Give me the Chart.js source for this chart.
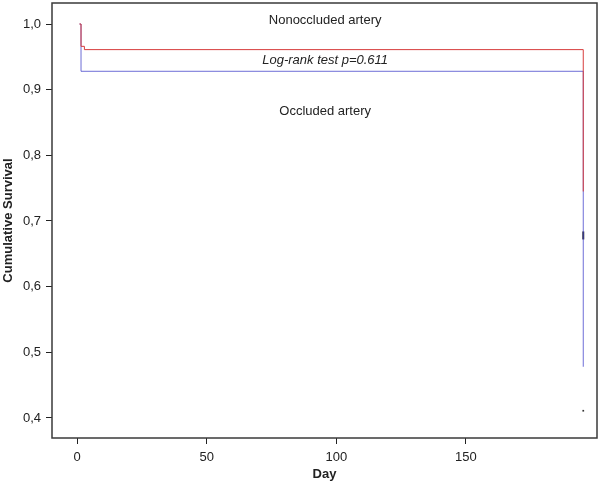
<!DOCTYPE html>
<html>
<head>
<meta charset="utf-8">
<script src="https://cdn.jsdelivr.net/npm/chart.js@4/dist/chart.umd.min.js"></script>
<style>
    html, body { margin: 0; padding: 0; background: #fff; }
    #wrap { width: 600px; height: 485px; }
</style>
</head>
<body>
<div id="wrap"><canvas id="kmChart" width="600" height="485"></canvas></div>
<script>
// Axis ticks
const xTicks = [0, 50, 100, 150];
const yTicks = [0.4, 0.5, 0.6, 0.7, 0.8, 0.9, 1.0];

// Kaplan-Meier steps (day, cumulative survival)
const nonoccludedDays = [0.9, 1.5, 2.8, 195.3];
const nonoccludedSurvival = [1.0, 0.966, 0.961, 0.745];
const occludedDays = [0.9, 1.5, 195.3];
const occludedSurvival = [1.0, 0.928, 0.478];

// Censor marks near the end
const censorDays = [195.3, 195.3];
const censorSurvival = [0.678, 0.411];

// Text labels inside the plot
const noteTexts = ['Nonoccluded artery', 'Log-rank test p=0.611', 'Occluded artery'];
const noteDays = [95.7, 95.7, 95.7];
const noteValues = [1.006, 0.944, 0.8675];
const noteItalic = [false, true, false];

const toPoints = (xs, ys) => xs.map((x, i) => ({ x: x, y: ys[i] }));

// Draws the frame and the in-plot labels
const framePlugin = {
    id: 'frame',
    afterDatasetsDraw(chart) {
        const { ctx, chartArea, scales } = chart;
        ctx.save();
        ctx.strokeStyle = '#3a3a3a';
        ctx.lineWidth = 1.5;
        ctx.strokeRect(chartArea.left, chartArea.top, chartArea.right - chartArea.left, chartArea.bottom - chartArea.top);

        ctx.fillStyle = '#222';
        ctx.textAlign = 'center';
        ctx.textBaseline = 'middle';
        noteTexts.forEach((t, i) => {
            ctx.font = (noteItalic[i] ? 'italic ' : '') + '13px "Liberation Sans", Arial, sans-serif';
            ctx.fillText(t, scales.x.getPixelForValue(noteDays[i]), scales.y.getPixelForValue(noteValues[i]));
        });
        ctx.restore();
    }
};

new Chart(document.getElementById('kmChart').getContext('2d'), {
    type: 'scatter',
    data: {
        datasets: [{
            label: 'Nonoccluded artery',
            data: toPoints(nonoccludedDays, nonoccludedSurvival),
            showLine: true,
            stepped: true,
            borderColor: 'rgb(215, 60, 60)',
            borderWidth: 1,
            pointRadius: 0
        }, {
            label: 'Occluded artery',
            data: toPoints(occludedDays, occludedSurvival),
            showLine: true,
            stepped: true,
            borderColor: 'rgba(60, 60, 200, 0.75)',
            borderWidth: 1,
            pointRadius: 0
        }, {
            label: 'Censored',
            data: toPoints(censorDays, censorSurvival),
            showLine: false,
            pointStyle: ['line', 'rect'],
            rotation: [90, 0],
            pointRadius: [4, 1.2],
            borderWidth: [2, 0],
            backgroundColor: '#333',
            borderColor: '#333'
        }]
    },
    options: {
        responsive: false,
        animation: false,
        layout: { autoPadding: false, padding: { top: 3, right: 3, left: 0, bottom: 0 } },
        plugins: {
            legend: { display: false },
            tooltip: { enabled: false }
        },
        scales: {
            x: {
                type: 'linear',
                min: -9.7,
                max: 200.6,
                afterBuildTicks: scale => { scale.ticks = xTicks.map(v => ({ value: v })); },
                afterFit: scale => { scale.height = 47; scale.paddingLeft = 0; scale.paddingRight = 0; },
                border: { display: false },
                grid: { drawOnChartArea: false, drawTicks: true, tickLength: 6, color: '#222' },
                ticks: {
                    padding: 6,
                    color: '#222',
                    font: { family: '"Liberation Sans", Arial, sans-serif', size: 13 }
                },
                title: {
                    display: true,
                    text: 'Day',
                    color: '#222',
                    padding: { top: 0, bottom: 3 },
                    font: { family: '"Liberation Sans", Arial, sans-serif', size: 13, weight: 'bold' }
                }
            },
            y: {
                type: 'linear',
                min: 0.3695,
                max: 1.032,
                afterBuildTicks: scale => { scale.ticks = yTicks.map(v => ({ value: v })); },
                afterFit: scale => { scale.width = 52; scale.paddingTop = 0; scale.paddingBottom = 0; },
                border: { display: false },
                grid: { drawOnChartArea: false, drawTicks: true, tickLength: 6, color: '#222' },
                ticks: {
                    padding: 5,
                    color: '#222',
                    font: { family: '"Liberation Sans", Arial, sans-serif', size: 13 },
                    callback: v => v.toFixed(1).replace('.', ',')
                },
                title: {
                    display: true,
                    text: 'Cumulative Survival',
                    color: '#222',
                    padding: { top: 1, bottom: 0 },
                    font: { family: '"Liberation Sans", Arial, sans-serif', size: 13, weight: 'bold' }
                }
            }
        }
    },
    plugins: [framePlugin]
});
</script>
</body>
</html>
